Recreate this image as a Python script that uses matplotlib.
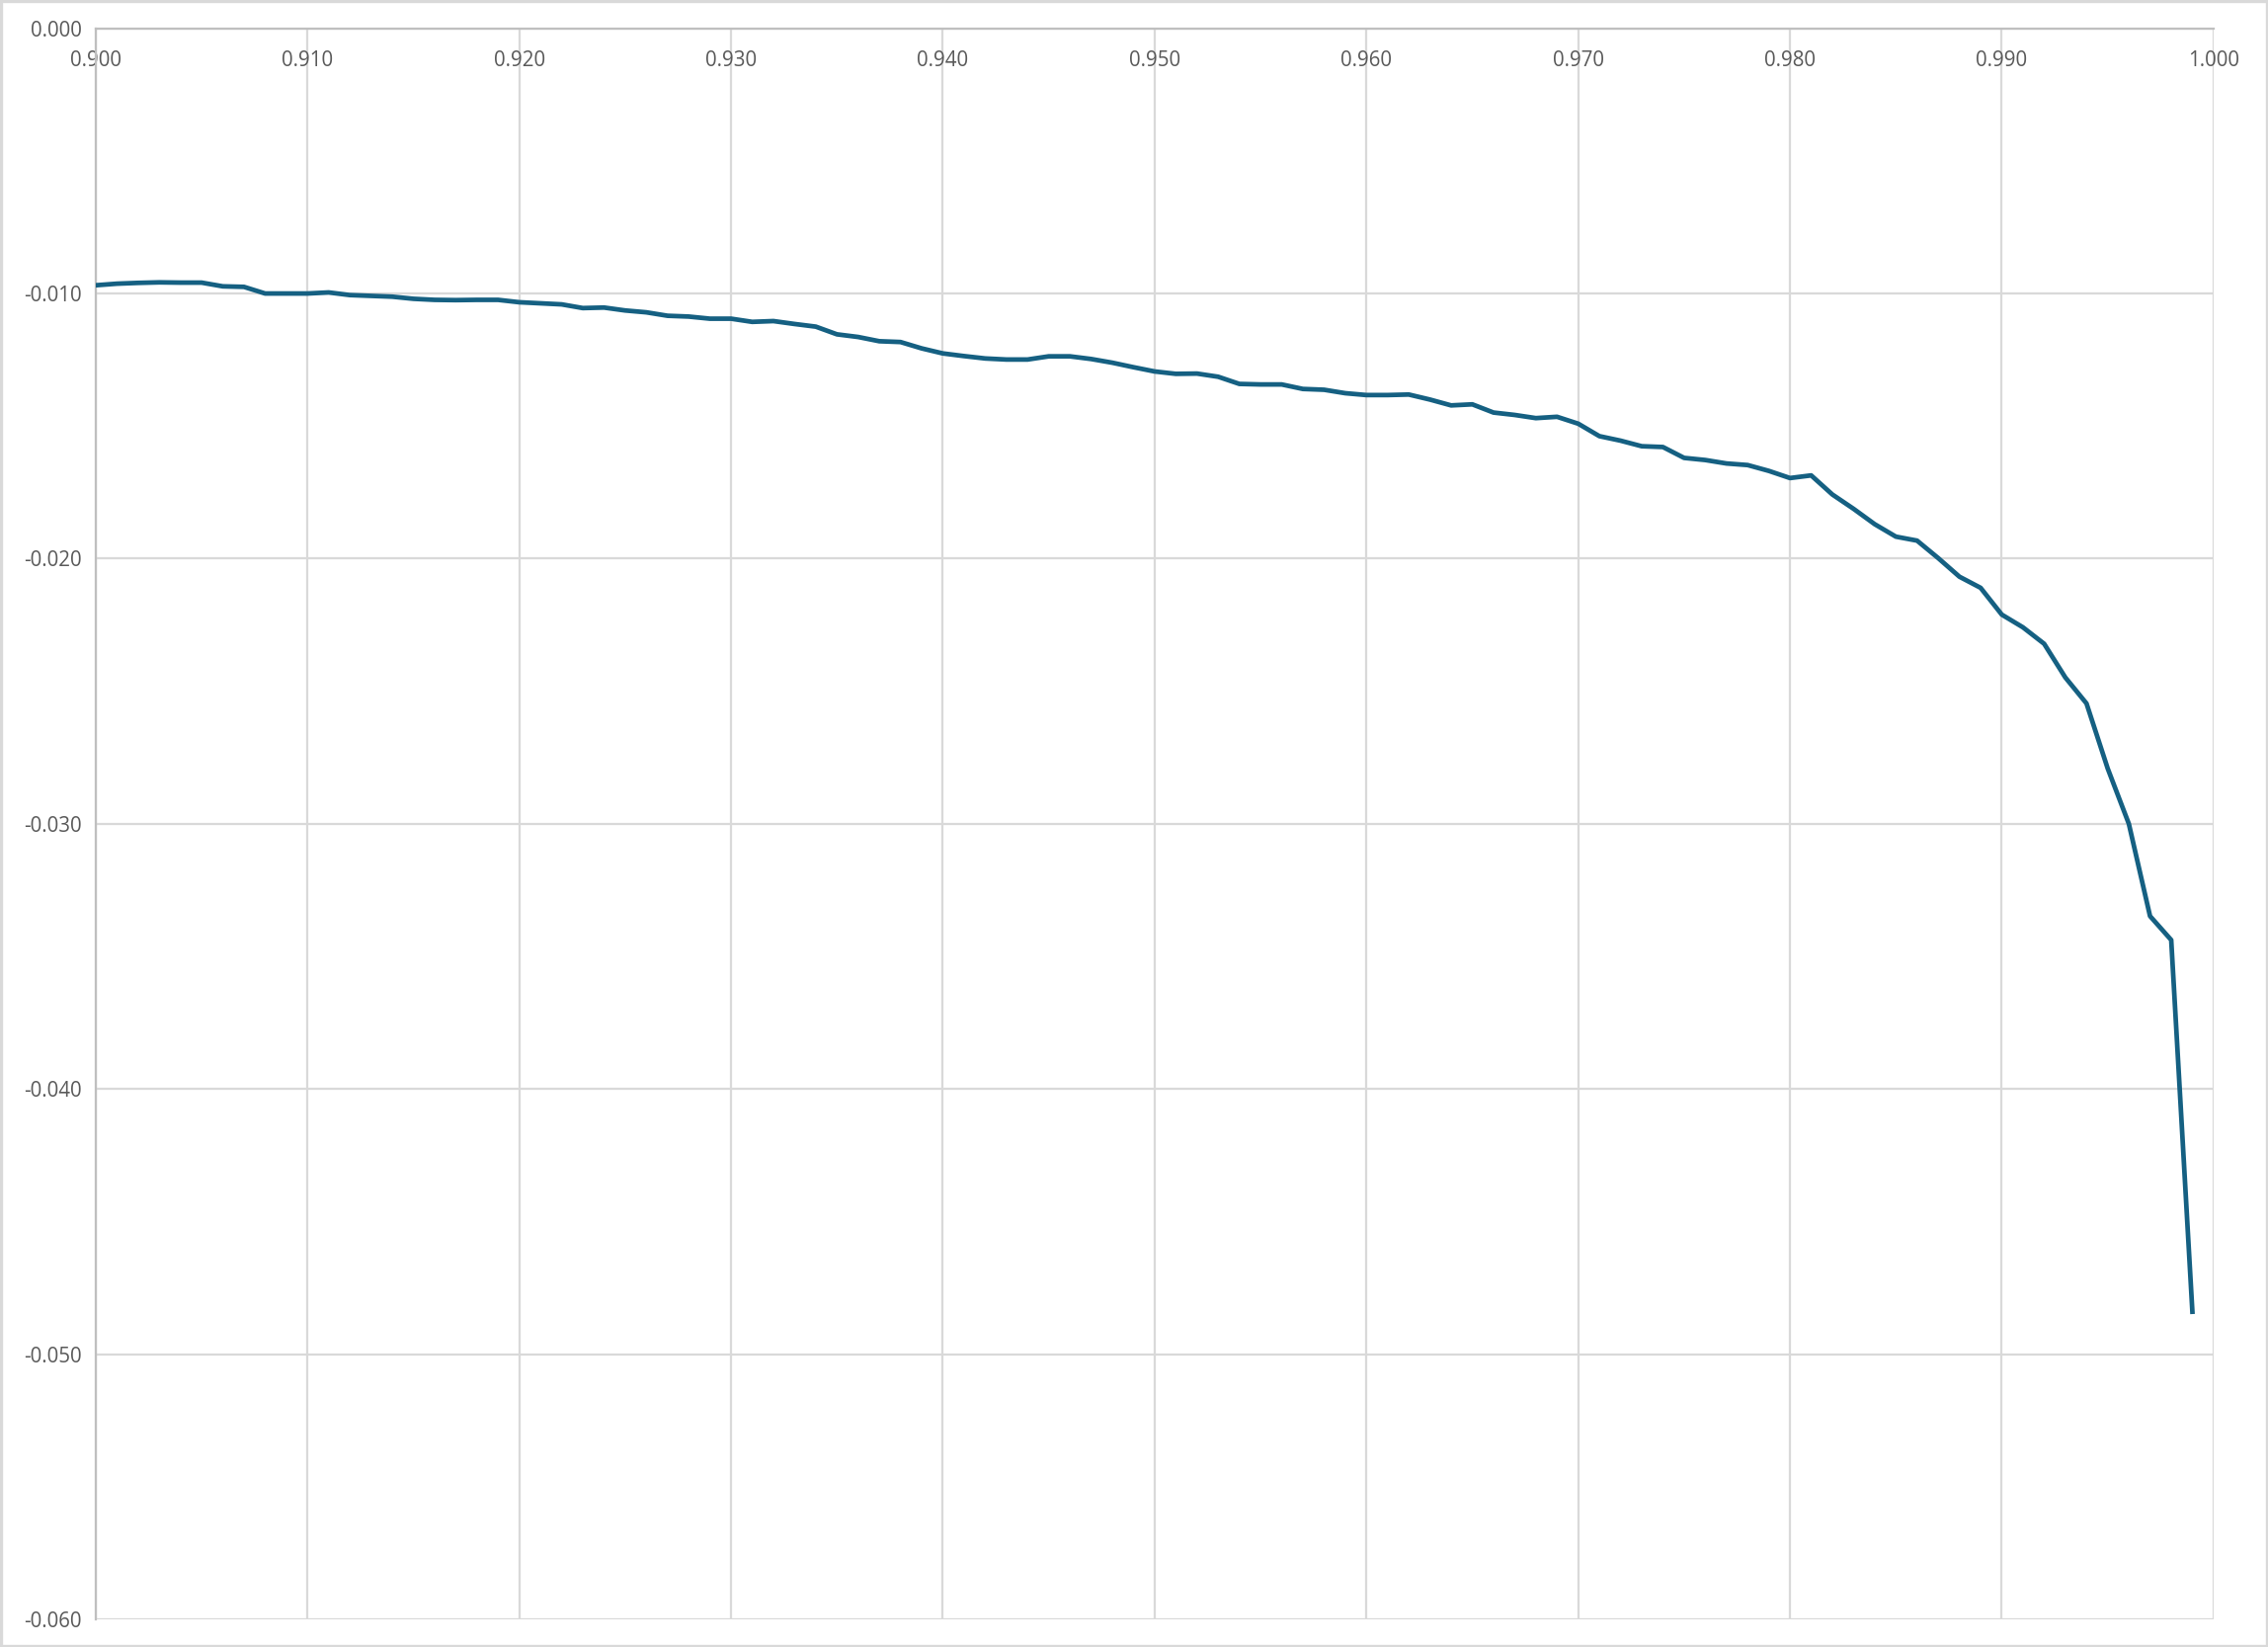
import numpy as np
import matplotlib
matplotlib.use("Agg")
import matplotlib.pyplot as plt
from matplotlib.ticker import MultipleLocator, FuncFormatter
from matplotlib.patches import Rectangle

# x grid: 0.900 .. 0.999 step 0.001
x_vals = np.round(np.arange(900, 1000) / 1000.0, 3)

y_vals = [
    -0.00969, -0.00963, -0.00960, -0.00958, -0.00959, -0.00959, -0.00973, -0.00975, -0.01000, -0.01000,
    -0.01000, -0.00996, -0.01006, -0.01009, -0.01012, -0.01020, -0.01024, -0.01025, -0.01024, -0.01024,
    -0.01033, -0.01037, -0.01041, -0.01055, -0.01053, -0.01064, -0.01071, -0.01084, -0.01087, -0.01095,
    -0.01095, -0.01107, -0.01104, -0.01115, -0.01125, -0.01154, -0.01164, -0.01180, -0.01183, -0.01207,
    -0.01226, -0.01236, -0.01245, -0.01249, -0.01249, -0.01237, -0.01237, -0.01247, -0.01261, -0.01278,
    -0.01294, -0.01303, -0.01302, -0.01314, -0.01341, -0.01343, -0.01343, -0.01360, -0.01363, -0.01376,
    -0.01383, -0.01383, -0.01381, -0.01400, -0.01422, -0.01418, -0.01449, -0.01458, -0.01470, -0.01465,
    -0.01491, -0.01538, -0.01555, -0.01576, -0.01579, -0.01620, -0.01628, -0.01641, -0.01647, -0.01669,
    -0.01696, -0.01686, -0.01758, -0.01812, -0.01870, -0.01917, -0.01932, -0.01998, -0.02068, -0.02110,
    -0.02211, -0.02259, -0.02321, -0.02448, -0.02546, -0.02791, -0.03000, -0.03348, -0.03438, -0.04840,
]

LINE = "#156082"
GRID = "#d9d9d9"
TEXT = "#595959"

plt.rcParams['font.family'] = ['Open Sans', 'DejaVu Sans']

fig = plt.figure(figsize=(11.48, 8.335), dpi=200)
ax = fig.add_axes([0.0422, 0.0168, 0.9338, 0.966])

# chart border
fig.patches.append(Rectangle((0.0005, 0.0005), 0.999, 0.999, transform=fig.transFigure,
                             fill=False, edgecolor=GRID, linewidth=1.2))

ax.plot(x_vals, y_vals, color=LINE, linewidth=1.7, solid_joinstyle="round", zorder=3)

ax.set_xlim(0.9, 1.0)
ax.set_ylim(-0.06, 0.0)
ax.xaxis.set_major_locator(MultipleLocator(0.01))
ax.yaxis.set_major_locator(MultipleLocator(0.01))
fmt = FuncFormatter(lambda v, p: ("%.3f" % v).replace("\u2212", "-") if abs(v) > 1e-12 else "0.000")
ax.xaxis.set_major_formatter(fmt)
ax.yaxis.set_major_formatter(fmt)

ax.grid(True, color=GRID, linewidth=0.8, zorder=0)
for side in ["right", "bottom"]:
    ax.spines[side].set_visible(False)
for side in ["left", "top"]:
    ax.spines[side].set_color("#bfbfbf")
    ax.spines[side].set_linewidth(0.8)

ax.tick_params(axis="x", top=False, bottom=False, labeltop=True, labelbottom=False,
               pad=-15.5, labelsize=7.4, labelcolor=TEXT, length=0)
ax.tick_params(axis="y", left=False, length=0, pad=5, labelsize=7.4, labelcolor=TEXT)

fig.savefig("out.png", dpi=200, facecolor="white")
